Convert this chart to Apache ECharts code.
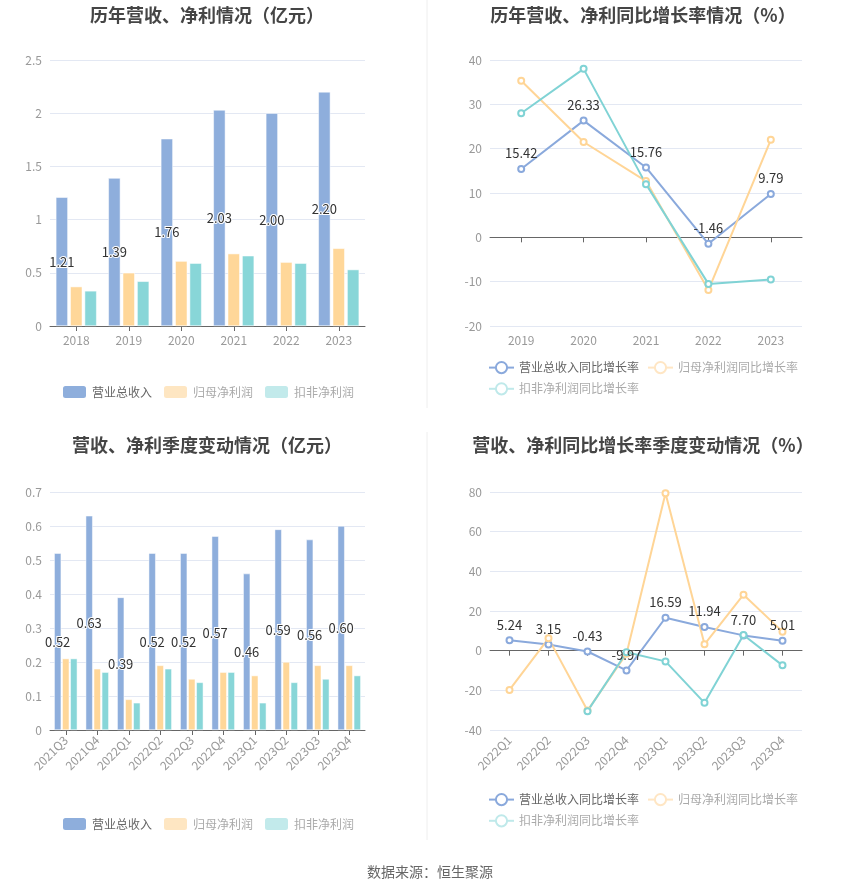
<!DOCTYPE html>
<html>
<head>
<meta charset="utf-8">
<script src="https://cdn.jsdelivr.net/npm/echarts@6/dist/echarts.min.js"></script>
<style>
html, body { margin: 0; padding: 0; background: #fff; }
#main { width: 850px; height: 891px; }
</style>
</head>
<body>
<div id="main"></div>
<script>
// 年度数据
var years = ['2018', '2019', '2020', '2021', '2022', '2023'];
var revenue = [1.21, 1.39, 1.76, 2.03, 2.00, 2.20];
var netProfit = [0.37, 0.50, 0.61, 0.68, 0.60, 0.73];
var deductProfit = [0.33, 0.42, 0.59, 0.66, 0.59, 0.53];

// 年度同比
var growthYears = ['2019', '2020', '2021', '2022', '2023'];
var revenueYoY = [15.42, 26.33, 15.76, -1.46, 9.79];
var netProfitYoY = [35.3, 21.5, 12.7, -11.9, 22.0];
var deductYoY = [28.0, 38.0, 12.0, -10.5, -9.5];

// 季度数据
var quarters = ['2021Q3', '2021Q4', '2022Q1', '2022Q2', '2022Q3', '2022Q4', '2023Q1', '2023Q2', '2023Q3', '2023Q4'];
var qRevenue = [0.52, 0.63, 0.39, 0.52, 0.52, 0.57, 0.46, 0.59, 0.56, 0.60];
var qNetProfit = [0.21, 0.18, 0.09, 0.19, 0.15, 0.17, 0.16, 0.20, 0.19, 0.19];
var qDeduct = [0.21, 0.17, 0.08, 0.18, 0.14, 0.17, 0.08, 0.14, 0.15, 0.16];

// 季度同比
var growthQuarters = ['2022Q1', '2022Q2', '2022Q3', '2022Q4', '2023Q1', '2023Q2', '2023Q3', '2023Q4'];
var qRevenueYoY = [5.24, 3.15, -0.43, -9.97, 16.59, 11.94, 7.70, 5.01];
var qNetProfitYoY = [-19.8, 6.2, -30.2, -1.5, 79.4, 3.2, 28.2, 9.6];
var qDeductYoY = [null, null, -30.5, -0.8, -5.4, -26.3, 7.9, -7.4];

var BLUE = '#8eaedc', YELLOW = '#ffd799', TEAL = '#88d6d8';
var FONT = '"Noto Sans CJK SC", "Noto Sans", sans-serif';

var dom = document.getElementById('main');
var myChart = echarts.init(dom);

function titleAt(text, x, y) {
    return {
        text: text, left: x, top: y, textAlign: 'center',
        textStyle: { fontSize: 18, fontWeight: 'bold', color: '#454545', fontFamily: FONT }
    };
}
function catAxis(idx, data, rotate) {
    return {
        type: 'category', gridIndex: idx, data: data,
        axisLine: { lineStyle: { color: '#666' } },
        axisTick: { show: true, alignWithLabel: true, lineStyle: { color: '#666' } },
        axisLabel: { color: '#999', fontSize: 12, rotate: rotate, margin: 8, fontFamily: FONT }
    };
}
function valAxis(idx, min, max, interval) {
    return {
        type: 'value', gridIndex: idx, min: min, max: max, interval: interval,
        axisLine: { show: false }, axisTick: { show: false },
        axisLabel: { color: '#999', fontSize: 12, fontFamily: FONT },
        splitLine: { lineStyle: { color: '#e3e8f3' } }
    };
}
function barSeries(name, data, color, idx, width, gap, label) {
    return {
        name: name, type: 'bar', xAxisIndex: idx, yAxisIndex: idx, data: data,
        barWidth: width, barGap: gap,
        itemStyle: { color: color, borderColor: '#fff', borderWidth: 0.5 },
        label: label ? {
            show: true, position: 'inside', color: '#333', fontSize: 13,
            textBorderColor: '#fff', textBorderWidth: 2, fontFamily: FONT,
            formatter: function (p) { return p.value.toFixed(2); }
        } : { show: false }
    };
}
function lineSeries(name, data, color, idx, label) {
    return {
        name: name, type: 'line', xAxisIndex: idx, yAxisIndex: idx, data: data,
        symbol: 'emptyCircle', symbolSize: 6, connectNulls: false,
        lineStyle: { color: color, width: 2 },
        itemStyle: { color: color },
        label: label ? {
            show: true, position: 'top', color: '#333', fontSize: 13, fontFamily: FONT,
            formatter: function (p) { return p.value.toFixed(2); }
        } : { show: false }
    };
}
function barLegend(top) {
    return {
        left: 56, top: top, itemWidth: 25, itemHeight: 14, itemGap: 10,
        textStyle: { color: '#666', fontSize: 12, fontFamily: FONT },
        data: [
            { name: '营业总收入' },
            { name: '归母净利润', itemStyle: { color: '#fee6c2' }, textStyle: { color: '#aaa' } },
            { name: '扣非净利润', itemStyle: { color: '#c2eaeb' }, textStyle: { color: '#aaa' } }
        ]
    };
}
function lightLine(name, c) {
    return {
        name: name,
        itemStyle: { color: c, borderColor: c },
        lineStyle: { color: c },
        textStyle: { color: '#aaa' }
    };
}
function lineLegend(top, names) {
    return {
        left: 483, top: top, width: 345, itemWidth: 25, itemHeight: 14, itemGap: 8,
        textStyle: { color: '#666', fontSize: 12, fontFamily: FONT },
        data: [
            { name: names[0] },
            lightLine(names[1], '#ffe6c4'),
            lightLine(names[2], '#bfe9ea')
        ]
    };
}

var n1 = ['营业总收入同比增长率', '归母净利润同比增长率', '扣非净利润同比增长率'];

option = {
    backgroundColor: '#fff',
    animation: false,
    textStyle: { fontFamily: FONT },
    title: [
        titleAt('历年营收、净利情况（亿元）', 202, 1),
        titleAt('历年营收、净利同比增长率情况（%）', 638, 1),
        titleAt('营收、净利季度变动情况（亿元）', 202, 431),
        titleAt('营收、净利同比增长率季度变动情况（%）', 638, 431),
        { text: '数据来源：恒生聚源', left: 425, top: 860, textAlign: 'center',
          textStyle: { fontSize: 14, fontWeight: 'normal', color: '#666', fontFamily: FONT } }
    ],
    legend: [
        barLegend(379),
        lineLegend(356, n1),
        barLegend(811),
        lineLegend(788, n1)
    ],
    grid: [
        { left: 50, top: 60, width: 315, height: 266 },
        { left: 490, top: 60, width: 312, height: 266 },
        { left: 50, top: 492, width: 315, height: 238 },
        { left: 490, top: 492, width: 312, height: 238 }
    ],
    xAxis: [
        catAxis(0, years, 0),
        catAxis(1, growthYears, 0),
        catAxis(2, quarters, 45),
        catAxis(3, growthQuarters, 45)
    ],
    yAxis: [
        valAxis(0, 0, 2.5, 0.5),
        valAxis(1, -20, 40, 10),
        valAxis(2, 0, 0.7, 0.1),
        valAxis(3, -40, 80, 20)
    ],
    graphic: [
        { type: 'line', shape: { x1: 427, y1: 0, x2: 427, y2: 408 }, style: { stroke: '#eee', lineWidth: 1 } },
        { type: 'line', shape: { x1: 427, y1: 432, x2: 427, y2: 840 }, style: { stroke: '#eee', lineWidth: 1 } }
    ],
    series: [
        barSeries('营业总收入', revenue, BLUE, 0, 12, '20%', true),
        barSeries('归母净利润', netProfit, YELLOW, 0, 12, '20%', false),
        barSeries('扣非净利润', deductProfit, TEAL, 0, 12, '20%', false),

        lineSeries(n1[0], revenueYoY, '#8aa9dc', 1, true),
        lineSeries(n1[1], netProfitYoY, '#ffd596', 1, false),
        lineSeries(n1[2], deductYoY, '#80d3d5', 1, false),

        barSeries('营业总收入', qRevenue, BLUE, 2, 7, '15%', true),
        barSeries('归母净利润', qNetProfit, YELLOW, 2, 7, '15%', false),
        barSeries('扣非净利润', qDeduct, TEAL, 2, 7, '15%', false),

        lineSeries(n1[0], qRevenueYoY, '#8aa9dc', 3, true),
        lineSeries(n1[1], qNetProfitYoY, '#ffd596', 3, false),
        lineSeries(n1[2], qDeductYoY, '#80d3d5', 3, false)
    ]
};
myChart.setOption(option, true);
</script>
</body>
</html>
